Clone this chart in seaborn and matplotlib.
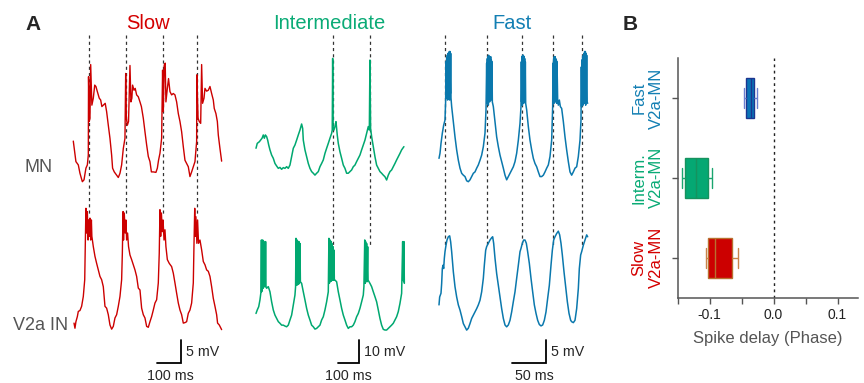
import numpy as np
import pandas as pd
import matplotlib.pyplot as plt
import seaborn as sns

sns.set_style("ticks")
plt.rcParams['font.family'] = ['Liberation Sans', 'DejaVu Sans']

# ---------------- panel A: membrane potential traces (t in ms, v in mV) ----------------
slow_mn_t = [0, 11, 21, 28, 38, 45, 53, 59, 63, 64, 67, 70, 73, 78, 84, 90, 95, 101, 109, 115, 120, 126, 134, 140,
             147, 154, 161, 165, 172, 182, 189, 196, 203, 210, 217, 220, 223, 227, 232, 238, 242, 246, 249, 255, 260,
             266, 273, 280, 286, 294, 301, 308, 315, 322, 328, 336, 347, 353, 358, 364, 371, 375, 378, 382, 386, 389,
             395, 400, 406, 413, 420, 427, 434, 441, 448, 455, 462, 469, 476, 483, 490, 497, 504, 511, 518, 519, 524,
             529, 535, 539, 543, 549, 553, 560, 567, 574, 581, 588, 592, 599, 605, 609, 616, 623]
slow_mn_v = [8.7, 4.3, 3.6, 1.8, 0.0, 0.4, 2.9, 3.6, 5.7, 22.5, 12.9, 13.6, 25.1, 16.4, 17.9, 20.7, 20.4, 19.3, 17.9,
             17.5, 16.1, 16.4, 16.8, 15.0, 12.1, 9.3, 5.7, 2.9, 2.1, 1.4, 0.9, 1.8, 3.6, 7.1, 9.3, 23.2, 13.6, 12.1,
             12.9, 24.9, 17.1, 17.9, 20.7, 19.6, 20.0, 18.6, 18.2, 17.1, 16.1, 13.6, 10.7, 7.9, 5.4, 4.3, 2.1, 2.1,
             2.0, 2.9, 4.6, 6.1, 9.3, 23.9, 15.0, 25.0, 25.4, 17.1, 20.0, 22.1, 19.3, 18.6, 18.9, 18.6, 17.1, 14.6,
             12.9, 10.7, 7.5, 4.6, 3.9, 3.2, 1.1, 2.1, 3.2, 4.3, 8.6, 22.9, 13.6, 12.9, 12.5, 25.1, 16.8, 17.9, 20.0,
             19.4, 19.6, 20.4, 18.9, 17.5, 15.7, 14.6, 12.9, 10.0, 7.1, 4.4]
slow_v2a_t = [3, 7, 11, 17, 21, 28, 35, 42, 48, 50, 53, 56, 59, 62, 64, 67, 70, 73, 76, 78, 84, 91, 98, 105, 112, 119,
              126, 133, 140, 147, 154, 161, 168, 175, 182, 189, 196, 203, 206, 209, 211, 214, 218, 221, 224, 228, 232,
              238, 245, 252, 259, 266, 273, 280, 287, 294, 301, 308, 315, 322, 329, 336, 343, 350, 357, 361, 364, 367,
              370, 374, 377, 381, 385, 389, 395, 403, 413, 420, 427, 434, 441, 448, 455, 462, 469, 476, 483, 490, 497,
              504, 507, 510, 512, 515, 519, 522, 526, 532, 539, 546, 553, 560, 567, 574, 581, 588, 595, 602, 606, 613,
              623]
slow_v2a_v = [1.3, 0.2, 1.6, 2.7, 3.8, 4.0, 4.9, 7.0, 10.6, 17.0, 25.9, 20.6, 25.2, 19.1, 23.4, 19.9, 23.8, 19.1, 23.4,
              19.9, 17.7, 15.6, 14.1, 12.7, 11.3, 10.6, 9.1, 4.9, 4.5, 3.1, 0.9, 0.0, 0.6, 2.4, 3.1, 4.9, 7.0, 10.6,
              16.3, 25.2, 19.1, 24.9, 20.6, 23.4, 19.1, 20.6, 17.7, 15.9, 14.9, 13.8, 12.7, 11.3, 8.8, 8.4, 4.5, 3.1,
              2.4, 0.6, 0.4, 1.6, 2.7, 4.1, 5.6, 6.3, 9.9, 16.3, 25.6, 19.9, 24.9, 20.9, 23.4, 19.1, 21.3, 17.7, 14.9,
              14.1, 13.4, 12.0, 9.9, 7.7, 5.6, 4.1, 3.1, 1.3, 1.4, 1.6, 3.4, 4.1, 5.6, 9.9, 18.4, 25.9, 19.9, 24.1,
              18.4, 23.4, 18.4, 19.1, 17.0, 14.5, 13.8, 12.7, 12.4, 11.3, 9.1, 6.6, 4.9, 3.1, 1.3, 0.9, -0.1]

inter_mn_t = [0, 6, 16, 22, 29, 35, 40, 45, 51, 56, 61, 67, 75, 83, 91, 99, 107, 115, 123, 131, 139, 147, 155, 163,
              171, 179, 187, 195, 203, 211, 219, 224, 227, 235, 243, 251, 259, 267, 275, 283, 291, 299, 307, 315, 323,
              331, 339, 347, 355, 363, 366, 368, 370, 374, 379, 384, 387, 390, 395, 403, 411, 419, 427, 435, 443, 451,
              459, 467, 475, 483, 491, 499, 507, 515, 523, 531, 539, 544, 547, 550, 555, 563, 571, 579, 587, 595, 603,
              611, 619, 627, 635, 643, 651, 659, 667, 675, 683, 691, 699, 710]
inter_mn_v = [13.6, 15.7, 16.4, 17.1, 17.9, 19.3, 17.9, 19.3, 18.6, 17.1, 15.0, 12.9, 10.7, 9.3, 7.1, 6.0, 5.0, 5.4,
              4.6, 5.3, 5.0, 5.7, 5.0, 6.4, 10.0, 13.6, 15.0, 17.1, 19.3, 21.4, 24.0, 22.1, 17.1, 12.9, 10.0, 7.1, 5.0,
              3.6, 2.9, 2.1, 2.9, 3.6, 5.7, 7.1, 8.6, 11.4, 13.6, 15.7, 17.9, 20.0, 21.4, 52.1, 22.9, 21.4, 22.9, 25.0,
              22.1, 19.3, 15.7, 12.1, 9.3, 6.4, 5.0, 2.9, 2.9, 3.6, 4.3, 5.7, 6.4, 7.9, 9.3, 10.7, 12.9, 15.0, 17.1,
              20.0, 22.9, 21.4, 51.4, 22.1, 18.6, 14.3, 10.0, 6.4, 5.0, 3.6, 2.9, 2.1, 1.4, 0.0, 2.1, 3.6, 4.3, 5.7,
              7.1, 8.6, 10.0, 11.4, 12.9, 14.3]
inter_v2a_t = [0, 6, 13, 19, 24, 26, 27, 30, 32, 34, 36, 37, 39, 44, 46, 48, 51, 59, 67, 75, 83, 91, 99, 107, 115,
               123, 131, 139, 147, 155, 163, 171, 179, 187, 190, 192, 194, 197, 199, 202, 204, 206, 208, 211, 213,
               219, 227, 235, 243, 251, 259, 267, 275, 283, 291, 299, 307, 315, 323, 331, 339, 347, 350, 352, 355,
               357, 360, 362, 365, 367, 370, 372, 374, 376, 379, 387, 395, 403, 411, 419, 427, 435, 443, 451, 459,
               467, 475, 483, 491, 499, 507, 515, 518, 522, 524, 526, 528, 531, 533, 536, 538, 547, 555, 563, 571,
               579, 587, 595, 603, 611, 619, 627, 635, 643, 651, 659, 667, 675, 683, 691, 699, 704, 706, 707, 709,
               710, 712]
inter_v2a_v = [7.1, 8.6, 10.0, 12.9, 16.4, 38.6, 16.4, 17.1, 38.6, 17.9, 18.6, 38.0, 18.6, 18.6, 37.9, 18.6, 17.9,
               18.6, 16.4, 12.1, 8.6, 6.4, 5.0, 3.6, 2.9, 2.1, 2.1, 1.7, 1.4, 2.1, 4.3, 6.4, 10.7, 15.0, 18.6, 39.3,
               19.3, 38.6, 19.3, 38.0, 19.6, 37.9, 20.0, 37.1, 20.7, 20.0, 16.4, 12.9, 9.3, 6.4, 4.3, 2.1, 1.4, 0.4,
               0.7, 1.4, 2.1, 4.3, 5.7, 8.6, 12.1, 16.4, 39.3, 20.0, 38.6, 20.7, 38.0, 21.0, 37.0, 21.4, 35.7, 21.4,
               34.3, 21.4, 21.4, 20.7, 16.4, 12.9, 9.3, 6.4, 4.3, 2.1, 0.7, 1.4, 1.4, 2.1, 3.6, 5.7, 7.1, 9.3, 12.1,
               15.0, 18.6, 38.6, 20.0, 37.9, 20.7, 37.1, 20.7, 35.7, 21.4, 20.0, 18.6, 16.4, 14.3, 12.1, 8.6, 5.0,
               2.1, 0.3, 0.0, 0.0, 0.7, 1.4, 2.1, 2.9, 4.3, 5.7, 7.9, 11.4, 15.7, 37.9, 21.4, 37.1, 20.7, 37.9, 20.0]

fast_mn_t = [0, 1.5, 3, 5, 7, 9, 10, 10.5, 11, 11.5, 12, 12.5, 13, 13.5, 14, 14.5, 15, 15.5, 16, 16.5, 17, 17.5, 18,
             19, 21.5, 24, 26.5, 29, 31.5, 34, 36.5, 39, 41.5, 44, 46.5, 49, 51.5, 54, 56.5, 59, 61.5, 64, 66.5, 69,
             70.5, 71.5, 72, 72.5, 73, 73.5, 74, 74.5, 75, 75.5, 76, 76.5, 77, 77.5, 78, 78.5, 79, 79.5, 80, 81.5, 84,
             86.5, 89, 91.5, 94, 96.5, 99, 101.5, 104, 106.5, 109, 111.5, 114, 116.5, 119, 121.5, 123, 123.5, 124,
             124.5, 125, 125.5, 126, 126.5, 127, 127.5, 128, 128.5, 129, 129.5, 130, 131.5, 134, 136.5, 139, 141.5,
             144, 146.5, 149, 151.5, 154, 156.5, 159, 161.5, 164, 166.5, 169, 170.5, 171, 171.5, 172, 172.5, 173,
             173.5, 174, 174.5, 175, 175.5, 176, 176.5, 177, 178, 179, 180.5, 182, 184, 186.5, 189, 191.5, 194,
             196.5, 199, 201.5, 204, 206.5, 209, 211.5, 213, 213.5, 214, 214.5, 215, 215.5, 216, 216.5, 217, 217.5,
             218, 218.5, 219, 219.5, 220, 220.5, 221, 221.5, 222, 223]
fast_mn_v = [5.0, 6.1, 8.2, 10.4, 12.1, 13.2, 17.5, 25.7, 17.9, 26.4, 18.6, 27.1, 17.5, 27.5, 19.3, 27.5, 18.2, 27.9,
             17.5, 27.9, 18.9, 27.5, 17.9, 16.1, 12.9, 9.6, 6.8, 4.6, 2.9, 1.8, 1.4, 1.1, 0.2, 0.0, 0.4, 1.1, 1.8,
             2.1, 2.9, 3.6, 4.6, 5.7, 7.5, 10.4, 15.4, 25.4, 16.8, 26.4, 17.9, 26.8, 16.4, 27.1, 18.2, 26.8, 17.1,
             26.4, 18.6, 26.8, 17.5, 26.1, 18.9, 25.7, 17.1, 16.1, 12.9, 9.6, 7.5, 5.7, 4.3, 2.9, 1.4, 0.4, 1.1, 1.8,
             2.5, 3.2, 4.3, 6.1, 8.9, 12.5, 16.1, 25.7, 17.1, 26.8, 16.4, 27.1, 17.9, 27.1, 16.8, 26.8, 18.2, 26.4,
             17.1, 25.7, 16.8, 15.4, 11.8, 8.9, 6.8, 5.0, 3.9, 3.2, 2.1, 1.1, 1.1, 1.4, 2.1, 2.9, 3.6, 5.4, 8.9, 16.1,
             25.4, 17.5, 26.4, 16.8, 26.8, 18.2, 26.8, 17.1, 26.4, 17.9, 26.1, 16.8, 25.7, 17.5, 16.4, 17.5, 16.1,
             15.7, 12.9, 9.6, 6.8, 4.3, 2.1, 1.4, 2.1, 2.9, 3.2, 5.4, 8.9, 13.2, 24.6, 16.1, 26.1, 17.1, 26.8, 16.4,
             27.1, 17.9, 27.5, 16.8, 27.9, 17.5, 27.9, 16.4, 27.5, 17.1, 27.1, 17.1, 16.8]
fast_v2a_t = [0, 1, 3, 4, 5, 6, 7, 8, 9, 10.5, 12, 14, 16, 17.5, 19, 21.5, 24, 26.5, 29, 31.5, 34, 36.5, 39, 41.5, 44,
              46.5, 49, 51.5, 54, 56.5, 59, 61.5, 64, 66.5, 68, 70, 71.5, 74, 76.5, 79, 80.5, 82, 84, 86.5, 89, 91.5,
              94, 96.5, 99, 101.5, 104, 106.5, 109, 111.5, 114, 116.5, 119, 121.5, 123, 125, 127, 129, 131, 133,
              135.5, 138, 140.5, 143, 145.5, 148, 150.5, 153, 155.5, 158, 160.5, 163, 165.5, 168, 170, 172, 174,
              176.5, 179, 181, 183, 185, 187.5, 190, 192.5, 195, 197.5, 199, 201.5, 204, 206.5, 209, 210.5, 212.5,
              214, 216.5, 219, 221.5, 223]
fast_v2a_v = [5.4, 7.1, 7.9, 10.0, 13.2, 13.9, 13.2, 15.4, 16.8, 18.2, 19.3, 20.0, 20.2, 18.9, 16.8, 12.5, 9.3, 7.1,
              5.4, 4.3, 2.9, 1.4, 0.7, 0.0, 0.4, 1.4, 2.5, 3.2, 3.9, 4.6, 5.4, 6.4, 8.2, 11.1, 13.9, 17.1, 17.9, 18.6,
              19.3, 19.8, 20.0, 18.6, 15.4, 12.1, 9.6, 7.1, 4.6, 2.5, 1.1, 0.7, 1.1, 2.1, 3.9, 6.1, 8.2, 11.1, 13.9,
              16.8, 17.5, 18.6, 19.3, 19.3, 18.6, 16.8, 14.3, 11.1, 8.2, 5.4, 3.6, 2.1, 1.2, 0.9, 1.1, 2.1, 3.9, 6.8,
              9.6, 13.9, 17.1, 19.3, 20.0, 20.7, 21.2, 20.4, 18.6, 16.1, 12.5, 9.3, 6.1, 3.6, 2.1, 1.8, 1.6, 2.1, 4.6,
              8.9, 13.2, 16.1, 16.8, 18.2, 19.3, 20.4, 20.0]

# MN spike times marked by dashed lines (ms)
slow_marks = [66, 220, 378, 521]
inter_marks = [368, 547]
fast_marks = [9, 71.5, 124, 171.5, 214]

titles = ["Slow", "Intermediate", "Fast"]
scale_ms = [100, 100, 50]
scale_mv = [5, 10, 5]

# ---------------- panel B: spike delay (phase) ----------------
groups = ["Fast\nV2a-MN", "Interm.\nV2a-MN", "Slow\nV2a-MN"]
fast_delay = [-0.046, -0.043, -0.036, -0.030, -0.026]
interm_delay = [-0.143, -0.138, -0.121, -0.1025, -0.096]
slow_delay = [-0.105, -0.1025, -0.092, -0.0645, -0.056]

RED, GREEN, BLUE = "#d40000", "#0aab76", "#137fb3"
GREY = "#555555"
trace_colors = ["#cc0000", "#00a870", "#0a78ad"]
title_colors = [RED, GREEN, BLUE]

W, H = 864, 383
fig = plt.figure(figsize=(W / 100, H / 100), dpi=100)


def fpos(x, y):
    return x / W, 1 - y / H


# column layout: t=0 pixel x, v=0 pixel y (MN), ms per px, mV per px, V2a shift (mV),
# scale bar corner (px), bottom of dashed lines (px)
layout = [
    dict(x0=73.3, y0=181.7, ms=4.2, mv=3 / 14, shift=-31.6, bar=(181, 363), dash_bot=215),
    dict(x0=256.0, y0=180.0, ms=4.8, mv=3 / 7, shift=-64.3, bar=(359.3, 363), dash_bot=245),
    dict(x0=439.0, y0=181.7, ms=1.5, mv=3 / 14, shift=-31.8, bar=(545.7, 363), dash_bot=245),
]
traces = [(slow_mn_t, slow_mn_v, slow_v2a_t, slow_v2a_v),
          (inter_mn_t, inter_mn_v, inter_v2a_t, inter_v2a_v),
          (fast_mn_t, fast_mn_v, fast_v2a_t, fast_v2a_v)]
marks = [slow_marks, inter_marks, fast_marks]
title_x = [147.5, 329.5, 512.5]

for i, L in enumerate(layout):
    ax = fig.add_axes([0, 0, 1, 1])
    ax.set_xlim(-L["x0"] * L["ms"], (W - L["x0"]) * L["ms"])
    ax.set_ylim((L["y0"] - H) * L["mv"], L["y0"] * L["mv"])
    ax.axis("off")
    ax.patch.set_alpha(0)

    def to_t(px, L=L):
        return (px - L["x0"]) * L["ms"]

    def to_v(py, L=L):
        return (L["y0"] - py) * L["mv"]

    mn_t, mn_v, v2a_t, v2a_v = traces[i]
    lw = 1.0 if i == 0 else 1.1
    sns.lineplot(x=mn_t, y=mn_v, ax=ax, color=trace_colors[i], lw=lw,
                 estimator=None, sort=False)
    sns.lineplot(x=v2a_t, y=np.array(v2a_v) + L["shift"], ax=ax,
                 color=trace_colors[i], lw=lw, estimator=None, sort=False)

    for m in marks[i]:
        ax.plot([m, m], [to_v(35), to_v(L["dash_bot"])], color="#333333",
                lw=0.9, dashes=(2.5, 2.5), zorder=0)

    bx, by = L["bar"]
    tc, vc = to_t(bx), to_v(by)
    ax.plot([tc - scale_ms[i], tc, tc], [vc, vc, vc + scale_mv[i]],
            color="black", lw=1.3, solid_joinstyle="miter")
    fig.text(*fpos(bx + 5, 356), f"{scale_mv[i]} mV", fontsize=10.3, va="baseline", ha="left")
    fig.text(*fpos(bx - 11, 380), f"{scale_ms[i]} ms", fontsize=10.3, va="baseline", ha="center")

    fig.text(*fpos(title_x[i], 29), titles[i], color=title_colors[i], fontsize=14.5,
             ha="center", va="baseline")

fig.text(*fpos(25, 30), "A", fontsize=15, fontweight="bold", va="baseline", ha="left")
fig.text(*fpos(623, 30), "B", fontsize=15, fontweight="bold", va="baseline", ha="left")
fig.text(*fpos(25, 171.7), "MN", fontsize=13, color=GREY, va="baseline", ha="left")
fig.text(*fpos(13, 330), "V2a IN", fontsize=13, color=GREY, va="baseline", ha="left")

# ---------------- panel B ----------------
df = pd.DataFrame({
    "group": np.repeat(groups, 5),
    "delay": fast_delay + interm_delay + slow_delay,
})
axb = fig.add_axes([677.7 / W, 1 - 297.7 / H, (858 - 677.7) / W, (297.7 - 58) / H])
box_fill = ["#0a74b6", "#05a873", "#cc0000"]
box_edge = ["#1c3590", "#16925e", "#b8702f"]
whisk_col = ["#6a7fd2", "#1aa56f", "#c8844a"]
sns.boxplot(data=df, x="delay", y="group", hue="group", order=groups, hue_order=groups,
            palette=box_fill, width=0.5, linewidth=1.0, fliersize=0, saturation=1,
            legend=False, ax=axb)
for cont, edge, wc in zip(axb.containers, box_edge, whisk_col):
    for b in cont.boxes:
        b.set_edgecolor(edge)
    for m in cont.medians:
        m.set_color(edge)
    for ln in list(cont.whiskers) + list(cont.caps):
        ln.set_color(wc)

axb.axvline(0, color="#222222", lw=1.0, dashes=(2, 2.5), zorder=0)
axb.set_xlim(-0.15, 0.132)
axb.set_ylim(2.5, -0.5)
axb.set_xticks([-0.15, -0.1, -0.05, 0, 0.05, 0.1])
axb.set_xticklabels(["", "-0.1", "", "0.0", "", "0.1"], fontsize=10, color="#222222")
axb.set_yticks([0, 1, 2])
axb.set_yticklabels(groups, rotation=90, fontsize=12, va="center", ha="right",
                    multialignment="center")
for lab, c in zip(axb.get_yticklabels(), [BLUE, GREEN, RED]):
    lab.set_color(c)
axb.set_xlabel("Spike delay (Phase)", fontsize=12, color=GREY, labelpad=6)
axb.set_ylabel("")
sns.despine(ax=axb)
for s in ["left", "bottom"]:
    axb.spines[s].set_color(GREY)
    axb.spines[s].set_linewidth(1.1)
axb.tick_params(axis="both", color=GREY, width=1.0, length=4.2)
axb.tick_params(axis="y", pad=6)

fig.savefig("out.png", dpi=100)
